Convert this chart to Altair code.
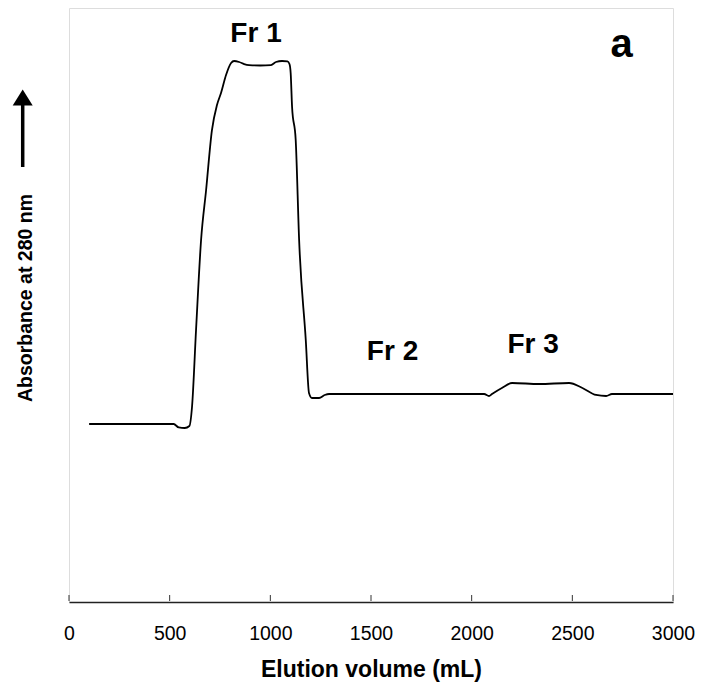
import altair as alt
import pandas as pd

# Elution profile (volume in mL, relative absorbance at 280 nm)
volume = [100, 520, 545, 575, 598, 611, 631, 656, 681, 710, 735, 755, 780, 805, 820,
          845, 870, 894, 950, 1003, 1028, 1058, 1085, 1095, 1101, 1108, 1126, 1143,
          1176, 1192, 1207, 1242, 1270, 1292, 2062, 2086, 2101, 2150, 2201, 2335,
          2484, 2550, 2618, 2668, 2697, 3000]
absorb = [0.2997, 0.2997, 0.2938, 0.2929, 0.2963, 0.3283, 0.4579, 0.6094, 0.6936,
          0.7946, 0.8367, 0.8569, 0.8872, 0.9074, 0.9108, 0.9091, 0.9057, 0.9040,
          0.9032, 0.9040, 0.9091, 0.9108, 0.9100, 0.9057, 0.8906, 0.8333, 0.7778,
          0.6094, 0.4411, 0.3519, 0.3434, 0.3434, 0.3485, 0.3502, 0.3502, 0.3468,
          0.3502, 0.3603, 0.3687, 0.3670, 0.3687, 0.3603, 0.3485, 0.3468, 0.3502,
          0.3502]

tick_values = [0, 500, 1000, 1500, 2000, 2500, 3000]

frac_labels = ["Fr 1", "Fr 2", "Fr 3"]
frac_x = [929, 1607, 2305]
frac_y = [0.9433, 0.4074, 0.4187]

panel_label = ["a"]
panel_x = [2745]
panel_y = [0.9175]

FONT = "Liberation Sans"

df = pd.DataFrame({"volume": volume, "absorb": absorb})
ticks_df = pd.DataFrame({"v": tick_values})
frac_df = pd.DataFrame({"label": frac_labels, "x": frac_x, "y": frac_y})
panel_df = pd.DataFrame({"label": panel_label, "x": panel_x, "y": panel_y})

xscale = alt.Scale(domain=[0, 3000], nice=False, zero=False)
yscale = alt.Scale(domain=[0, 1], nice=False)

line = alt.Chart(df).mark_line(color="black", strokeWidth=1.8, interpolate="monotone").encode(
    x=alt.X("volume:Q", scale=xscale,
            axis=alt.Axis(values=tick_values, format="d", title="Elution volume (mL)",
                          ticks=False, tickSize=0, labelPadding=22, grid=False,
                          labelFlush=False, labelOverlap=False,
                          domainColor="#222222", domainWidth=1.5,
                          labelFont=FONT, labelFontSize=19.5, labelColor="black",
                          titleFont=FONT, titleFontSize=23, titleFontWeight="bold",
                          titleColor="black", titlePadding=16)),
    y=alt.Y("absorb:Q", scale=yscale,
            axis=alt.Axis(labels=False, ticks=False, domain=False, grid=False, title=None)),
)

inner_ticks = alt.Chart(ticks_df).mark_rule(color="#333333", strokeWidth=1).encode(
    x=alt.X("v:Q", scale=xscale),
    y=alt.value(587),
    y2=alt.value(593),
)

frac_text = alt.Chart(frac_df).mark_text(font=FONT, fontSize=28, fontWeight="bold",
                                         baseline="alphabetic", align="center",
                                         color="black").encode(
    x=alt.X("x:Q", scale=xscale), y=alt.Y("y:Q", scale=yscale), text="label:N")

panel_text = alt.Chart(panel_df).mark_text(font=FONT, fontSize=40, fontWeight="bold",
                                           baseline="alphabetic", align="center",
                                           color="black").encode(
    x=alt.X("x:Q", scale=xscale), y=alt.Y("y:Q", scale=yscale), text="label:N")

ytitle = alt.Chart(pd.DataFrame({"t": ["Absorbance at 280 nm"]})).mark_text(
    font=FONT, fontSize=19.5, fontWeight="bold", angle=270, baseline="middle",
    align="center", color="black").encode(
    x=alt.value(-43), y=alt.value(290), text="t:N")

shaft = alt.Chart(pd.DataFrame({"a": [0]})).mark_rule(color="black", strokeWidth=3.5).encode(
    x=alt.value(-46.3), y=alt.value(95), y2=alt.value(159))

head = alt.Chart(pd.DataFrame({"a": [0]})).mark_point(
    shape="M0,-0.79L1,0.79L-1,0.79Z", filled=True, color="black", opacity=1,
    size=400, strokeWidth=0).encode(x=alt.value(-46.3), y=alt.value(89.5))

chart = alt.layer(line, inner_ticks, frac_text, panel_text, ytitle, shaft, head).properties(
    width=604, height=594,
    autosize=alt.AutoSizeParams(type="none"),
    padding={"left": 61, "top": 0, "right": 22, "bottom": 84},
).configure_view(stroke="#8a8a8a", strokeWidth=1.5).configure(background="white")

chart.save("out.html", embed_options={"renderer": "svg", "actions": False})
